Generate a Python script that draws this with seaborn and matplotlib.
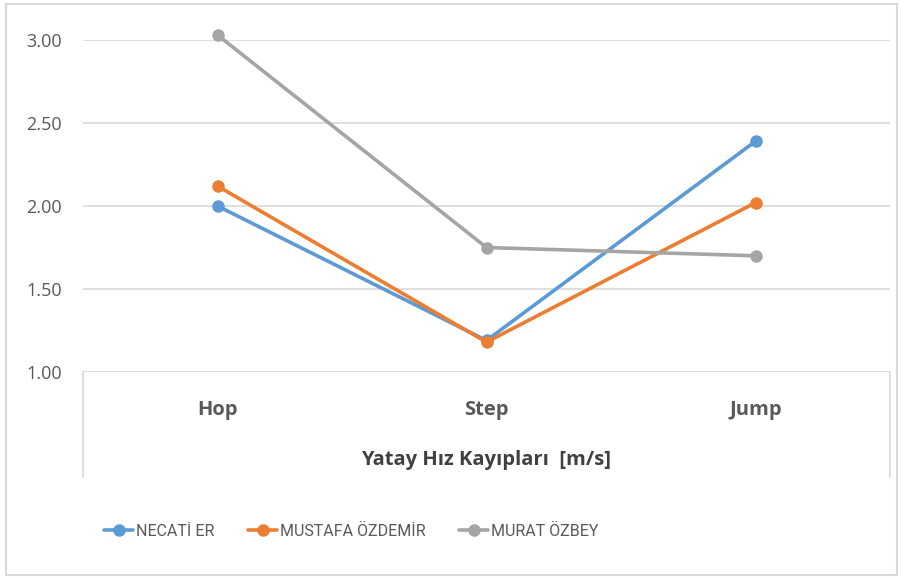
import pandas as pd
import matplotlib.pyplot as plt
import seaborn as sns

plt.switch_backend('Agg')

# chart data
phases = ["Hop", "Step", "Jump"]
necati = [2.00, 1.19, 2.39]
mustafa = [2.12, 1.18, 2.02]
murat = [3.03, 1.75, 1.70]
athletes = ["NECATİ ER", "MUSTAFA ÖZDEMİR", "MURAT ÖZBEY"]
y_ticks = [1.0, 1.5, 2.0, 2.5, 3.0]
x_title = "Yatay Hız Kayıpları  [m/s]"

colors = ["#5B9BD5", "#ED7D31", "#A5A5A5"]
text_col = "#595959"
grid_col = "#D9D9D9"

df = pd.DataFrame({
    "phase": phases * 3,
    "value": necati + mustafa + murat,
    "athlete": [a for a in athletes for _ in phases],
})

sns.set_style("white")
plt.rcParams['font.family'] = ['Open Sans', 'DejaVu Sans']

W, H = 905, 578
fig = plt.figure(figsize=(W / 100, H / 100), dpi=100)

# outer chart border
fig.patches.append(plt.Rectangle((6 / W, 3 / H), 891 / W, 571 / H, transform=fig.transFigure,
                                 fill=False, edgecolor=grid_col, linewidth=1.5))

# category box below the plot area
box = fig.add_axes([83 / W, (H - 477) / H, 807 / W, 105 / H])
box.set_xticks([])
box.set_yticks([])
box.patch.set_alpha(0)
for s in ["top", "bottom"]:
    box.spines[s].set_visible(False)
for s in ["left", "right"]:
    box.spines[s].set_color(grid_col)
    box.spines[s].set_linewidth(1.2)

ax = fig.add_axes([83 / W, (H - 372) / H, 807 / W, 332 / H])
ax.patch.set_alpha(0)
sns.lineplot(data=df, x="phase", y="value", hue="athlete", hue_order=athletes,
             palette=colors, marker="o", markersize=9, markeredgewidth=0,
             linewidth=2.6, sort=False, ax=ax, clip_on=False)

ax.set_xlim(-0.5, 2.5)
ax.set_ylim(1.0, 3.0)
ax.set_yticks(y_ticks)
ax.set_yticklabels([f"{v:.2f}" for v in y_ticks], fontsize=13, color=text_col)
ax.tick_params(axis="y", length=0, pad=15)
ax.tick_params(axis="x", length=0, pad=20)
for lbl in ax.get_xticklabels():
    lbl.set_fontsize(14.5)
    lbl.set_fontweight("bold")
    lbl.set_color(text_col)
ax.grid(axis="y", color=grid_col, linewidth=1.2)
ax.set_axisbelow(True)
sns.despine(ax=ax, left=True, bottom=True)
ax.set_ylabel("")
ax.set_xlabel(x_title, fontsize=14.5, fontweight="bold", color="#404040", labelpad=22)

handles, labels = ax.get_legend_handles_labels()
ax.get_legend().remove()
fig.legend(handles, labels, loc="center left", bbox_to_anchor=(90 / W, (H - 531) / H),
           ncol=3, frameon=False, handlelength=1.8, handletextpad=0.2,
           columnspacing=2.1, prop={"family": ["Roboto", "DejaVu Sans"], "size": 11.5},
           labelcolor=text_col)

plt.savefig("out.png", dpi=100)
plt.close('all')
